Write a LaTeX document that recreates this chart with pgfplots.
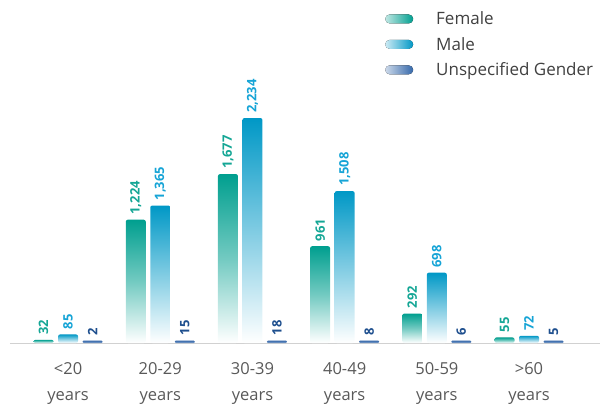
\documentclass[border=0pt]{standalone}
\usepackage{pgfplots}
\pgfplotsset{compat=1.18}
\usepackage{fontspec}
\setmainfont{Open Sans}

\definecolor{fem}{HTML}{009F8F}
\definecolor{mal}{HTML}{0098C6}
\definecolor{uns}{HTML}{3568AA}
\definecolor{femtxt}{HTML}{14A695}
\definecolor{maltxt}{HTML}{16A4D6}
\definecolor{unstxt}{HTML}{1E4F8E}

% one addplot per bar, so that every bar gets its own gradient
\pgfplotsset{
  fbar/.style={draw=none, top color=fem, bottom color=white, middle color=fem!55!white,
    rounded corners=2pt, bar shift=-24.5pt,
    every node near coord/.append style={text=femtxt},
    legend image code/.code={\fill[rounded corners=4.5pt, left color=fem!25!white, right color=fem] (0pt,-4.5pt) rectangle (28pt,4.5pt);}},
  mbar/.style={draw=none, top color=mal, bottom color=white, middle color=mal!50!white,
    rounded corners=2pt, bar shift=0pt,
    every node near coord/.append style={text=maltxt},
    legend image code/.code={\fill[rounded corners=4.5pt, left color=mal!20!white, right color=mal] (0pt,-4.5pt) rectangle (28pt,4.5pt);}},
  ubar/.style={draw=none, top color=uns, bottom color=uns!60!white,
    rounded corners=1pt, bar shift=24.5pt,
    y filter/.expression={max(y,24)}, point meta=rawy,
    every node near coord/.append style={text=unstxt},
    legend image code/.code={\fill[rounded corners=4.5pt, left color=uns!25!white, right color=uns] (0pt,-4.5pt) rectangle (28pt,4.5pt);}},
}

\begin{document}
\begin{tikzpicture}
\path[use as bounding box] (-10pt,-62pt) rectangle (602pt,343pt);
\begin{axis}[
    scale only axis,
    width=590pt, height=343pt,
    xmin=-0.63, xmax=5.77,
    ymin=0, ymax=3406,
    axis y line=none,
    axis x line*=bottom,
    axis line style={draw=black!18, line width=0.8pt},
    xtick={0,...,5},
    xticklabels={{<20\\years},{20-29\\years},{30-39\\years},{40-49\\years},{50-59\\years},{>60\\years}},
    major tick length=0pt,
    xticklabel style={align=center, font=\fontsize{16.5}{26}\selectfont, text=black!65, yshift=-16pt},
    ybar, bar width=20pt,
    nodes near coords,
    /pgf/number format/assume math mode=true,
    every node near coord/.append style={rotate=90, anchor=west, inner xsep=5pt, inner ysep=0pt,
        font=\bfseries\fontsize{13}{13}\selectfont},
    legend cell align=left,
    legend style={at={(0.6305,0.978)}, anchor=north west, draw=none, fill=none,
        font=\fontsize{17}{17}\selectfont, text=black!75, row sep=7pt,
        /tikz/every odd column/.append style={column sep=21pt}},
]

\addplot[fbar] coordinates {(0,32)};
\addplot[mbar] coordinates {(0,85)};
\addplot[ubar] coordinates {(0,2)};

\addplot[fbar, forget plot] coordinates {(1,1224)};
\addplot[fbar, forget plot] coordinates {(2,1677)};
\addplot[fbar, forget plot] coordinates {(3,961)};
\addplot[fbar, forget plot] coordinates {(4,292)};
\addplot[fbar, forget plot] coordinates {(5,55)};

\addplot[mbar, forget plot] coordinates {(1,1365)};
\addplot[mbar, forget plot] coordinates {(2,2234)};
\addplot[mbar, forget plot] coordinates {(3,1508)};
\addplot[mbar, forget plot] coordinates {(4,698)};
\addplot[mbar, forget plot] coordinates {(5,72)};

\addplot[ubar, forget plot] coordinates {(1,15)};
\addplot[ubar, forget plot] coordinates {(2,18)};
\addplot[ubar, forget plot] coordinates {(3,8)};
\addplot[ubar, forget plot] coordinates {(4,6)};
\addplot[ubar, forget plot] coordinates {(5,5)};

\legend{Female, Male, Unspecified Gender}
\end{axis}
\end{tikzpicture}
\end{document}
